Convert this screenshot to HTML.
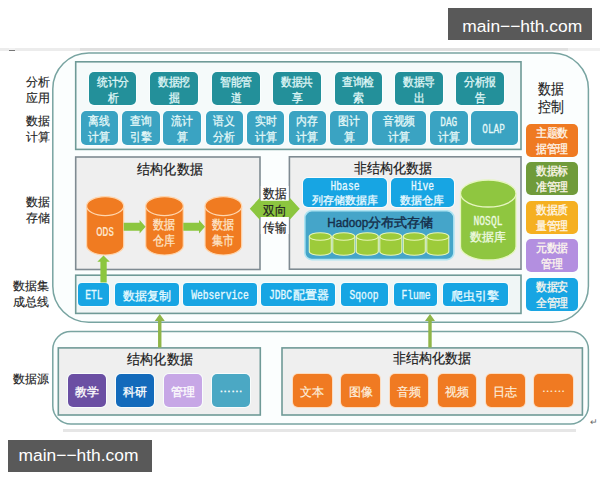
<!DOCTYPE html><html><head><meta charset="utf-8"><style>
html,body{margin:0;padding:0;background:#fff;width:600px;height:480px;overflow:hidden;position:relative}
</style></head><body><div style="position:absolute;left:0px;top:48px;width:80.00px;height:2.50px;background:#ececec;border-radius:0px;"></div><div style="position:absolute;left:80px;top:48px;width:488.00px;height:2.50px;background:#e0e0e0;border-radius:0px;"></div><div style="position:absolute;left:568px;top:48px;width:32.00px;height:2.50px;background:#f0f0f0;border-radius:0px;"></div><div style="position:absolute;left:9px;top:48px;width:6.00px;height:2.00px;background:#f2f2f2;border-radius:0px;"></div><div style="position:absolute;left:9px;top:50px;width:6.00px;height:1.00px;background:#777;border-radius:0px;"></div><div style="position:absolute;left:448px;top:8px;width:144.00px;height:32.00px;background:#595959;border-radius:0px;"></div><div style="position:absolute;left:462.3px;top:10px;width:120px;height:32px;line-height:32px;text-align:center;font-family:'Liberation Sans',sans-serif;font-size:17.4px;color:#fff;white-space:nowrap">main−−hth.com</div><div style="position:absolute;left:8px;top:440px;width:144.00px;height:32.00px;background:#595959;border-radius:0px;"></div><div style="position:absolute;left:18.5px;top:439px;width:120px;height:32px;line-height:32px;text-align:center;font-family:'Liberation Sans',sans-serif;font-size:17.4px;color:#fff;white-space:nowrap">main−−hth.com</div><svg width="600" height="480" style="position:absolute;left:0;top:0"><rect x="52.8" y="52.9" width="535.60" height="269.40" rx="36" ry="36" fill="#fbfefe" stroke="#78a4a1" stroke-width="1.5"/></svg><div style="position:absolute;left:20px;top:72px;width:35.00px;height:36.00px;display:flex;align-items:center;justify-content:center;text-align:center;font-family:'Liberation Sans',sans-serif;font-size:12.2px;line-height:16px;color:#222;font-weight:normal;white-space:nowrap;-webkit-text-stroke:0.15px #222;"><div>分析<br>应用</div></div><div style="position:absolute;left:20px;top:111px;width:35.00px;height:36.00px;display:flex;align-items:center;justify-content:center;text-align:center;font-family:'Liberation Sans',sans-serif;font-size:12.2px;line-height:16px;color:#222;font-weight:normal;white-space:nowrap;-webkit-text-stroke:0.15px #222;"><div>数据<br>计算</div></div><div style="position:absolute;left:20px;top:192px;width:35.00px;height:36.00px;display:flex;align-items:center;justify-content:center;text-align:center;font-family:'Liberation Sans',sans-serif;font-size:12.2px;line-height:16.2px;color:#222;font-weight:normal;white-space:nowrap;-webkit-text-stroke:0.15px #222;"><div>数据<br>存储</div></div><div style="position:absolute;left:8.5px;top:276px;width:45.50px;height:36.00px;display:flex;align-items:center;justify-content:center;text-align:center;font-family:'Liberation Sans',sans-serif;font-size:12px;line-height:16.3px;color:#222;font-weight:normal;white-space:nowrap;-webkit-text-stroke:0.15px #222;"><div>数据集<br>成总线</div></div><div style="position:absolute;left:8.5px;top:370px;width:45.50px;height:18.00px;display:flex;align-items:center;justify-content:center;text-align:center;font-family:'Liberation Sans',sans-serif;font-size:12.2px;line-height:16px;color:#222;font-weight:normal;white-space:nowrap;-webkit-text-stroke:0.15px #222;"><div>数据源</div></div><div style="position:absolute;left:530px;top:79px;width:42.00px;height:37.00px;display:flex;align-items:center;justify-content:center;text-align:center;font-family:'Liberation Sans',sans-serif;font-size:14.5px;line-height:18px;color:#222;font-weight:normal;white-space:nowrap;-webkit-text-stroke:0.15px #222;"><div><span style="display:inline-block;transform:scaleX(0.86)">数据<br>控制</span></div></div><svg width="600" height="480" style="position:absolute;left:0;top:0"><rect x="75.7" y="61.8" width="445.30" height="87.60" rx="0" ry="0" fill="#f5fafa" stroke="#6f9a97" stroke-width="1.6"/></svg><div style="position:absolute;left:88.75px;top:72px;width:47.50px;height:33.00px;background:#23909a;border-radius:5px;box-shadow:0 0 0 1px rgba(250,255,255,0.8);"></div><div style="position:absolute;left:88.75px;top:73.6px;width:47.50px;height:33.00px;display:flex;align-items:center;justify-content:center;text-align:center;font-family:'Liberation Sans',sans-serif;font-size:11.8px;line-height:16px;color:#e0f8f8;font-weight:normal;white-space:nowrap;-webkit-text-stroke:0.3px #e0f8f8;"><div><span style="display:inline-block;transform:scaleX(0.9)">统计分<br>析</span></div></div><div style="position:absolute;left:150px;top:72px;width:47.50px;height:33.00px;background:#23909a;border-radius:5px;box-shadow:0 0 0 1px rgba(250,255,255,0.8);"></div><div style="position:absolute;left:150px;top:73.6px;width:47.50px;height:33.00px;display:flex;align-items:center;justify-content:center;text-align:center;font-family:'Liberation Sans',sans-serif;font-size:11.8px;line-height:16px;color:#e0f8f8;font-weight:normal;white-space:nowrap;-webkit-text-stroke:0.3px #e0f8f8;"><div><span style="display:inline-block;transform:scaleX(0.9)">数据挖<br>掘</span></div></div><div style="position:absolute;left:212px;top:72px;width:47.50px;height:33.00px;background:#23909a;border-radius:5px;box-shadow:0 0 0 1px rgba(250,255,255,0.8);"></div><div style="position:absolute;left:212px;top:73.6px;width:47.50px;height:33.00px;display:flex;align-items:center;justify-content:center;text-align:center;font-family:'Liberation Sans',sans-serif;font-size:11.8px;line-height:16px;color:#e0f8f8;font-weight:normal;white-space:nowrap;-webkit-text-stroke:0.3px #e0f8f8;"><div><span style="display:inline-block;transform:scaleX(0.9)">智能管<br>道</span></div></div><div style="position:absolute;left:273px;top:72px;width:47.50px;height:33.00px;background:#23909a;border-radius:5px;box-shadow:0 0 0 1px rgba(250,255,255,0.8);"></div><div style="position:absolute;left:273px;top:73.6px;width:47.50px;height:33.00px;display:flex;align-items:center;justify-content:center;text-align:center;font-family:'Liberation Sans',sans-serif;font-size:11.8px;line-height:16px;color:#e0f8f8;font-weight:normal;white-space:nowrap;-webkit-text-stroke:0.3px #e0f8f8;"><div><span style="display:inline-block;transform:scaleX(0.9)">数据共<br>享</span></div></div><div style="position:absolute;left:334.5px;top:72px;width:47.50px;height:33.00px;background:#23909a;border-radius:5px;box-shadow:0 0 0 1px rgba(250,255,255,0.8);"></div><div style="position:absolute;left:334.5px;top:73.6px;width:47.50px;height:33.00px;display:flex;align-items:center;justify-content:center;text-align:center;font-family:'Liberation Sans',sans-serif;font-size:11.8px;line-height:16px;color:#e0f8f8;font-weight:normal;white-space:nowrap;-webkit-text-stroke:0.3px #e0f8f8;"><div><span style="display:inline-block;transform:scaleX(0.9)">查询检<br>索</span></div></div><div style="position:absolute;left:395px;top:72px;width:47.50px;height:33.00px;background:#23909a;border-radius:5px;box-shadow:0 0 0 1px rgba(250,255,255,0.8);"></div><div style="position:absolute;left:395px;top:73.6px;width:47.50px;height:33.00px;display:flex;align-items:center;justify-content:center;text-align:center;font-family:'Liberation Sans',sans-serif;font-size:11.8px;line-height:16px;color:#e0f8f8;font-weight:normal;white-space:nowrap;-webkit-text-stroke:0.3px #e0f8f8;"><div><span style="display:inline-block;transform:scaleX(0.9)">数据导<br>出</span></div></div><div style="position:absolute;left:456px;top:72px;width:47.50px;height:33.00px;background:#23909a;border-radius:5px;box-shadow:0 0 0 1px rgba(250,255,255,0.8);"></div><div style="position:absolute;left:456px;top:73.6px;width:47.50px;height:33.00px;display:flex;align-items:center;justify-content:center;text-align:center;font-family:'Liberation Sans',sans-serif;font-size:11.8px;line-height:16px;color:#e0f8f8;font-weight:normal;white-space:nowrap;-webkit-text-stroke:0.3px #e0f8f8;"><div><span style="display:inline-block;transform:scaleX(0.9)">分析报<br>告</span></div></div><div style="position:absolute;left:80.5px;top:111px;width:37.50px;height:33.50px;background:#3aa3c2;border-radius:5px;box-shadow:0 0 0 1px rgba(250,255,255,0.8);"></div><div style="position:absolute;left:80.5px;top:112px;width:37.50px;height:33.50px;display:flex;align-items:center;justify-content:center;text-align:center;font-family:'Liberation Sans',sans-serif;font-size:11.6px;line-height:16px;color:#e4f8f8;font-weight:normal;white-space:nowrap;-webkit-text-stroke:0.3px #e4f8f8;"><div><span style="display:inline-block;transform:scaleX(0.9)">离线<br>计算</span></div></div><div style="position:absolute;left:122px;top:111px;width:37.50px;height:33.50px;background:#3aa3c2;border-radius:5px;box-shadow:0 0 0 1px rgba(250,255,255,0.8);"></div><div style="position:absolute;left:122px;top:112px;width:37.50px;height:33.50px;display:flex;align-items:center;justify-content:center;text-align:center;font-family:'Liberation Sans',sans-serif;font-size:11.6px;line-height:16px;color:#e4f8f8;font-weight:normal;white-space:nowrap;-webkit-text-stroke:0.3px #e4f8f8;"><div><span style="display:inline-block;transform:scaleX(0.9)">查询<br>引擎</span></div></div><div style="position:absolute;left:163px;top:111px;width:38.00px;height:33.50px;background:#3aa3c2;border-radius:5px;box-shadow:0 0 0 1px rgba(250,255,255,0.8);"></div><div style="position:absolute;left:163px;top:112px;width:38.00px;height:33.50px;display:flex;align-items:center;justify-content:center;text-align:center;font-family:'Liberation Sans',sans-serif;font-size:11.6px;line-height:16px;color:#e4f8f8;font-weight:normal;white-space:nowrap;-webkit-text-stroke:0.3px #e4f8f8;"><div><span style="display:inline-block;transform:scaleX(0.9)">流计<br>算</span></div></div><div style="position:absolute;left:205.5px;top:111px;width:37.00px;height:33.50px;background:#3aa3c2;border-radius:5px;box-shadow:0 0 0 1px rgba(250,255,255,0.8);"></div><div style="position:absolute;left:205.5px;top:112px;width:37.00px;height:33.50px;display:flex;align-items:center;justify-content:center;text-align:center;font-family:'Liberation Sans',sans-serif;font-size:11.6px;line-height:16px;color:#e4f8f8;font-weight:normal;white-space:nowrap;-webkit-text-stroke:0.3px #e4f8f8;"><div><span style="display:inline-block;transform:scaleX(0.9)">语义<br>分析</span></div></div><div style="position:absolute;left:247px;top:111px;width:37.00px;height:33.50px;background:#3aa3c2;border-radius:5px;box-shadow:0 0 0 1px rgba(250,255,255,0.8);"></div><div style="position:absolute;left:247px;top:112px;width:37.00px;height:33.50px;display:flex;align-items:center;justify-content:center;text-align:center;font-family:'Liberation Sans',sans-serif;font-size:11.6px;line-height:16px;color:#e4f8f8;font-weight:normal;white-space:nowrap;-webkit-text-stroke:0.3px #e4f8f8;"><div><span style="display:inline-block;transform:scaleX(0.9)">实时<br>计算</span></div></div><div style="position:absolute;left:289px;top:111px;width:36.50px;height:33.50px;background:#3aa3c2;border-radius:5px;box-shadow:0 0 0 1px rgba(250,255,255,0.8);"></div><div style="position:absolute;left:289px;top:112px;width:36.50px;height:33.50px;display:flex;align-items:center;justify-content:center;text-align:center;font-family:'Liberation Sans',sans-serif;font-size:11.6px;line-height:16px;color:#e4f8f8;font-weight:normal;white-space:nowrap;-webkit-text-stroke:0.3px #e4f8f8;"><div><span style="display:inline-block;transform:scaleX(0.9)">内存<br>计算</span></div></div><div style="position:absolute;left:330px;top:111px;width:37.50px;height:33.50px;background:#3aa3c2;border-radius:5px;box-shadow:0 0 0 1px rgba(250,255,255,0.8);"></div><div style="position:absolute;left:330px;top:112px;width:37.50px;height:33.50px;display:flex;align-items:center;justify-content:center;text-align:center;font-family:'Liberation Sans',sans-serif;font-size:11.6px;line-height:16px;color:#e4f8f8;font-weight:normal;white-space:nowrap;-webkit-text-stroke:0.3px #e4f8f8;"><div><span style="display:inline-block;transform:scaleX(0.9)">图计<br>算</span></div></div><div style="position:absolute;left:372px;top:111px;width:54.00px;height:33.50px;background:#3aa3c2;border-radius:5px;box-shadow:0 0 0 1px rgba(250,255,255,0.8);"></div><div style="position:absolute;left:372px;top:112px;width:54.00px;height:33.50px;display:flex;align-items:center;justify-content:center;text-align:center;font-family:'Liberation Sans',sans-serif;font-size:11.6px;line-height:16px;color:#e4f8f8;font-weight:normal;white-space:nowrap;-webkit-text-stroke:0.3px #e4f8f8;"><div><span style="display:inline-block;transform:scaleX(0.9)">音视频<br>计算</span></div></div><div style="position:absolute;left:430px;top:111px;width:37.50px;height:33.50px;background:#3aa3c2;border-radius:5px;box-shadow:0 0 0 1px rgba(250,255,255,0.8);"></div><div style="position:absolute;left:430px;top:112px;width:37.50px;height:33.50px;display:flex;align-items:center;justify-content:center;text-align:center;font-family:'Liberation Sans',sans-serif;font-size:11.6px;line-height:16px;color:#e4f8f8;font-weight:normal;white-space:nowrap;-webkit-text-stroke:0.3px #e4f8f8;"><div><span style="display:inline-block;transform:scaleX(0.9)"><span style="font-family:'Liberation Mono',monospace;display:inline-block;transform:scaleX(0.8);font-size:13px;line-height:15px;position:relative;top:1px">DAG</span><br>计算</span></div></div><div style="position:absolute;left:470.5px;top:111px;width:47.00px;height:33.50px;background:#3aa3c2;border-radius:5px;box-shadow:0 0 0 1px rgba(250,255,255,0.8);"></div><div style="position:absolute;left:470.5px;top:112px;width:47.00px;height:33.50px;display:flex;align-items:center;justify-content:center;text-align:center;font-family:'Liberation Sans',sans-serif;font-size:11.6px;line-height:16px;color:#e4f8f8;font-weight:normal;white-space:nowrap;-webkit-text-stroke:0.3px #e4f8f8;"><div><span style="display:inline-block;transform:scaleX(0.9)"><span style="font-family:'Liberation Mono',monospace;display:inline-block;transform:scaleX(0.8);font-size:13px;position:relative;top:1px">OLAP</span></span></div></div><div style="position:absolute;left:526.3px;top:124px;width:51.40px;height:33.00px;background:#ef7a22;border-radius:5px;box-shadow:0 0 0 1px rgba(250,255,255,0.8);"></div><div style="position:absolute;left:526.3px;top:124.8px;width:51.40px;height:33.00px;display:flex;align-items:center;justify-content:center;text-align:center;font-family:'Liberation Sans',sans-serif;font-size:12px;line-height:16px;color:#fff8ee;font-weight:normal;white-space:nowrap;-webkit-text-stroke:0.3px #fff8ee;"><div><span style="display:inline-block;transform:scaleX(0.91)">主题数<br>据管理</span></div></div><div style="position:absolute;left:526.3px;top:162px;width:51.40px;height:33.40px;background:#6f9b3a;border-radius:5px;box-shadow:0 0 0 1px rgba(250,255,255,0.8);"></div><div style="position:absolute;left:526.3px;top:162.8px;width:51.40px;height:33.40px;display:flex;align-items:center;justify-content:center;text-align:center;font-family:'Liberation Sans',sans-serif;font-size:12px;line-height:16px;color:#fff8ee;font-weight:normal;white-space:nowrap;-webkit-text-stroke:0.3px #fff8ee;"><div><span style="display:inline-block;transform:scaleX(0.91)">数据标<br>准管理</span></div></div><div style="position:absolute;left:526.3px;top:200.5px;width:51.40px;height:33.50px;background:#f5b021;border-radius:5px;box-shadow:0 0 0 1px rgba(250,255,255,0.8);"></div><div style="position:absolute;left:526.3px;top:201.3px;width:51.40px;height:33.50px;display:flex;align-items:center;justify-content:center;text-align:center;font-family:'Liberation Sans',sans-serif;font-size:12px;line-height:16px;color:#fff8ee;font-weight:normal;white-space:nowrap;-webkit-text-stroke:0.3px #fff8ee;"><div><span style="display:inline-block;transform:scaleX(0.91)">数据质<br>量管理</span></div></div><div style="position:absolute;left:526.3px;top:239px;width:51.40px;height:33.30px;background:#b38fe0;border-radius:5px;box-shadow:0 0 0 1px rgba(250,255,255,0.8);"></div><div style="position:absolute;left:526.3px;top:239.8px;width:51.40px;height:33.30px;display:flex;align-items:center;justify-content:center;text-align:center;font-family:'Liberation Sans',sans-serif;font-size:12px;line-height:16px;color:#fff8ee;font-weight:normal;white-space:nowrap;-webkit-text-stroke:0.3px #fff8ee;"><div><span style="display:inline-block;transform:scaleX(0.91)">元数据<br>管理</span></div></div><div style="position:absolute;left:526.3px;top:278px;width:51.40px;height:33.00px;background:#17a5e3;border-radius:5px;box-shadow:0 0 0 1px rgba(250,255,255,0.8);"></div><div style="position:absolute;left:526.3px;top:278.8px;width:51.40px;height:33.00px;display:flex;align-items:center;justify-content:center;text-align:center;font-family:'Liberation Sans',sans-serif;font-size:12px;line-height:16px;color:#fff8ee;font-weight:normal;white-space:nowrap;-webkit-text-stroke:0.3px #fff8ee;"><div><span style="display:inline-block;transform:scaleX(0.91)">数据安<br>全管理</span></div></div><svg width="600" height="480" style="position:absolute;left:0;top:0"><rect x="75.7" y="157" width="184.30" height="112.50" rx="0" ry="0" fill="#efefef" stroke="#7f8b92" stroke-width="1.6"/></svg><svg width="600" height="480" style="position:absolute;left:0;top:0"><rect x="289.4" y="156.8" width="231.60" height="112.40" rx="0" ry="0" fill="#efefef" stroke="#7f8b92" stroke-width="1.6"/></svg><div style="position:absolute;left:120px;top:160px;width:100.00px;height:20.00px;display:flex;align-items:center;justify-content:center;text-align:center;font-family:'Liberation Sans',sans-serif;font-size:13.5px;line-height:18px;color:#1a1a1a;font-weight:normal;white-space:nowrap;-webkit-text-stroke:0.2px #1a1a1a;"><div><span style="display:inline-block;transform:scaleX(0.93)">结构化数据</span></div></div><div style="position:absolute;left:340.5px;top:159px;width:105.00px;height:20.00px;display:flex;align-items:center;justify-content:center;text-align:center;font-family:'Liberation Sans',sans-serif;font-size:13.5px;line-height:18px;color:#1a1a1a;font-weight:normal;white-space:nowrap;-webkit-text-stroke:0.2px #1a1a1a;"><div><span style="display:inline-block;transform:scaleX(0.93)">非结构化数据</span></div></div><svg width="600" height="480" style="position:absolute;left:0;top:0"><rect x="75.7" y="275.2" width="445.30" height="38.20" rx="0" ry="0" fill="#f0f6f6" stroke="#6f9a97" stroke-width="1.6"/></svg><div style="position:absolute;left:78px;top:283px;width:31.30px;height:22.50px;background:#17a5e3;border-radius:4px;box-shadow:0 0 0 1px rgba(250,255,255,0.8);"></div><div style="position:absolute;left:78px;top:284.5px;width:31.30px;height:22.50px;display:flex;align-items:center;justify-content:center;text-align:center;font-family:'Liberation Sans',sans-serif;font-size:11.5px;line-height:16px;color:#e6faff;font-weight:normal;white-space:nowrap;-webkit-text-stroke:0.3px #e6faff;"><div><span style="font-family:'Liberation Mono',monospace;display:inline-block;transform:scaleX(0.8);font-size:12px">ETL</span></div></div><div style="position:absolute;left:115px;top:283px;width:63.50px;height:22.50px;background:#17a5e3;border-radius:4px;box-shadow:0 0 0 1px rgba(250,255,255,0.8);"></div><div style="position:absolute;left:115px;top:284.5px;width:63.50px;height:22.50px;display:flex;align-items:center;justify-content:center;text-align:center;font-family:'Liberation Sans',sans-serif;font-size:11.5px;line-height:16px;color:#e6faff;font-weight:normal;white-space:nowrap;-webkit-text-stroke:0.3px #e6faff;"><div>数据复制</div></div><div style="position:absolute;left:183.3px;top:283px;width:73.40px;height:22.50px;background:#17a5e3;border-radius:4px;box-shadow:0 0 0 1px rgba(250,255,255,0.8);"></div><div style="position:absolute;left:183.3px;top:284.5px;width:73.40px;height:22.50px;display:flex;align-items:center;justify-content:center;text-align:center;font-family:'Liberation Sans',sans-serif;font-size:11.5px;line-height:16px;color:#e6faff;font-weight:normal;white-space:nowrap;-webkit-text-stroke:0.3px #e6faff;"><div><span style="font-family:'Liberation Mono',monospace;display:inline-block;transform:scaleX(0.8);font-size:12px">Webservice</span></div></div><div style="position:absolute;left:261.2px;top:283px;width:74.00px;height:22.50px;background:#17a5e3;border-radius:4px;box-shadow:0 0 0 1px rgba(250,255,255,0.8);"></div><div style="position:absolute;left:261.2px;top:284.5px;width:74.00px;height:22.50px;display:flex;align-items:center;justify-content:center;text-align:center;font-family:'Liberation Sans',sans-serif;font-size:11.5px;line-height:16px;color:#e6faff;font-weight:normal;white-space:nowrap;-webkit-text-stroke:0.3px #e6faff;"><div><span style="font-family:'Liberation Mono',monospace;display:inline-block;transform:scaleX(0.8);margin:0 -2px;font-size:12px">JDBC</span>配置器</div></div><div style="position:absolute;left:340.5px;top:283px;width:47.00px;height:22.50px;background:#17a5e3;border-radius:4px;box-shadow:0 0 0 1px rgba(250,255,255,0.8);"></div><div style="position:absolute;left:340.5px;top:284.5px;width:47.00px;height:22.50px;display:flex;align-items:center;justify-content:center;text-align:center;font-family:'Liberation Sans',sans-serif;font-size:11.5px;line-height:16px;color:#e6faff;font-weight:normal;white-space:nowrap;-webkit-text-stroke:0.3px #e6faff;"><div><span style="font-family:'Liberation Mono',monospace;display:inline-block;transform:scaleX(0.8);font-size:12px">Sqoop</span></div></div><div style="position:absolute;left:394px;top:283px;width:43.20px;height:22.50px;background:#17a5e3;border-radius:4px;box-shadow:0 0 0 1px rgba(250,255,255,0.8);"></div><div style="position:absolute;left:394px;top:284.5px;width:43.20px;height:22.50px;display:flex;align-items:center;justify-content:center;text-align:center;font-family:'Liberation Sans',sans-serif;font-size:11.5px;line-height:16px;color:#e6faff;font-weight:normal;white-space:nowrap;-webkit-text-stroke:0.3px #e6faff;"><div><span style="font-family:'Liberation Mono',monospace;display:inline-block;transform:scaleX(0.8);font-size:12px">Flume</span></div></div><div style="position:absolute;left:442.5px;top:283px;width:65.40px;height:22.50px;background:#17a5e3;border-radius:4px;box-shadow:0 0 0 1px rgba(250,255,255,0.8);"></div><div style="position:absolute;left:442.5px;top:284.5px;width:65.40px;height:22.50px;display:flex;align-items:center;justify-content:center;text-align:center;font-family:'Liberation Sans',sans-serif;font-size:11.5px;line-height:16px;color:#e6faff;font-weight:normal;white-space:nowrap;-webkit-text-stroke:0.3px #e6faff;"><div>爬虫引擎</div></div><svg width="600" height="480" style="position:absolute;left:0;top:0"><rect x="52.8" y="331.4" width="535.60" height="92.60" rx="18" ry="18" fill="#fbfefe" stroke="#78a4a1" stroke-width="1.5"/></svg><svg width="600" height="480" style="position:absolute;left:0;top:0"><rect x="58.3" y="347.9" width="202.00" height="67.10" rx="0" ry="0" fill="#efefef" stroke="#6f9a97" stroke-width="1.6"/></svg><svg width="600" height="480" style="position:absolute;left:0;top:0"><rect x="282" y="347.9" width="300.40" height="67.10" rx="0" ry="0" fill="#efefef" stroke="#6f9a97" stroke-width="1.6"/></svg><div style="position:absolute;left:99.5px;top:351px;width:120.00px;height:18.00px;display:flex;align-items:center;justify-content:center;text-align:center;font-family:'Liberation Sans',sans-serif;font-size:13.5px;line-height:18px;color:#1a1a1a;font-weight:normal;white-space:nowrap;-webkit-text-stroke:0.2px #1a1a1a;"><div><span style="display:inline-block;transform:scaleX(0.93)">结构化数据</span></div></div><div style="position:absolute;left:362px;top:350px;width:140.00px;height:18.00px;display:flex;align-items:center;justify-content:center;text-align:center;font-family:'Liberation Sans',sans-serif;font-size:13.5px;line-height:18px;color:#1a1a1a;font-weight:normal;white-space:nowrap;-webkit-text-stroke:0.2px #1a1a1a;"><div><span style="display:inline-block;transform:scaleX(0.93)">非结构化数据</span></div></div><div style="position:absolute;left:68px;top:374px;width:38.00px;height:33.00px;background:#6b4fa3;border-radius:5px;box-shadow:0 0 0 1px rgba(250,255,255,0.8);"></div><div style="position:absolute;left:68px;top:375px;width:38.00px;height:33.00px;display:flex;align-items:center;justify-content:center;text-align:center;font-family:'Liberation Sans',sans-serif;font-size:11.8px;line-height:16px;color:#fff;font-weight:normal;white-space:nowrap;-webkit-text-stroke:0.3px #fff;"><div>教学</div></div><div style="position:absolute;left:116px;top:374px;width:38.00px;height:33.00px;background:#136abb;border-radius:5px;box-shadow:0 0 0 1px rgba(250,255,255,0.8);"></div><div style="position:absolute;left:116px;top:375px;width:38.00px;height:33.00px;display:flex;align-items:center;justify-content:center;text-align:center;font-family:'Liberation Sans',sans-serif;font-size:11.8px;line-height:16px;color:#fff;font-weight:normal;white-space:nowrap;-webkit-text-stroke:0.3px #fff;"><div>科研</div></div><div style="position:absolute;left:164px;top:374px;width:38.00px;height:33.00px;background:#c7a7e6;border-radius:5px;box-shadow:0 0 0 1px rgba(250,255,255,0.8);"></div><div style="position:absolute;left:164px;top:375px;width:38.00px;height:33.00px;display:flex;align-items:center;justify-content:center;text-align:center;font-family:'Liberation Sans',sans-serif;font-size:11.8px;line-height:16px;color:#fff;font-weight:normal;white-space:nowrap;-webkit-text-stroke:0.3px #fff;"><div>管理</div></div><div style="position:absolute;left:212px;top:374px;width:38.00px;height:33.00px;background:#4ba8c4;border-radius:5px;box-shadow:0 0 0 1px rgba(250,255,255,0.8);"></div><div style="position:absolute;left:212px;top:371.5px;width:38.00px;height:33.00px;display:flex;align-items:center;justify-content:center;text-align:center;font-family:'Liberation Sans',sans-serif;font-size:11.8px;line-height:16px;color:#fff;font-weight:normal;white-space:nowrap;-webkit-text-stroke:0.3px #fff;"><div>……</div></div><div style="position:absolute;left:293.2px;top:374px;width:38.50px;height:33.00px;background:#f07a22;border-radius:5px;box-shadow:0 0 0 1px rgba(255,215,180,0.8);"></div><div style="position:absolute;left:293.2px;top:375px;width:38.50px;height:33.00px;display:flex;align-items:center;justify-content:center;text-align:center;font-family:'Liberation Sans',sans-serif;font-size:11.8px;line-height:16px;color:#fdeedd;font-weight:normal;white-space:nowrap;-webkit-text-stroke:0.2px #fdeedd;"><div>文本</div></div><div style="position:absolute;left:341.4px;top:374px;width:38.50px;height:33.00px;background:#f07a22;border-radius:5px;box-shadow:0 0 0 1px rgba(255,215,180,0.8);"></div><div style="position:absolute;left:341.4px;top:375px;width:38.50px;height:33.00px;display:flex;align-items:center;justify-content:center;text-align:center;font-family:'Liberation Sans',sans-serif;font-size:11.8px;line-height:16px;color:#fdeedd;font-weight:normal;white-space:nowrap;-webkit-text-stroke:0.2px #fdeedd;"><div>图像</div></div><div style="position:absolute;left:389.6px;top:374px;width:38.50px;height:33.00px;background:#f07a22;border-radius:5px;box-shadow:0 0 0 1px rgba(255,215,180,0.8);"></div><div style="position:absolute;left:389.6px;top:375px;width:38.50px;height:33.00px;display:flex;align-items:center;justify-content:center;text-align:center;font-family:'Liberation Sans',sans-serif;font-size:11.8px;line-height:16px;color:#fdeedd;font-weight:normal;white-space:nowrap;-webkit-text-stroke:0.2px #fdeedd;"><div>音频</div></div><div style="position:absolute;left:437.8px;top:374px;width:38.50px;height:33.00px;background:#f07a22;border-radius:5px;box-shadow:0 0 0 1px rgba(255,215,180,0.8);"></div><div style="position:absolute;left:437.8px;top:375px;width:38.50px;height:33.00px;display:flex;align-items:center;justify-content:center;text-align:center;font-family:'Liberation Sans',sans-serif;font-size:11.8px;line-height:16px;color:#fdeedd;font-weight:normal;white-space:nowrap;-webkit-text-stroke:0.2px #fdeedd;"><div>视频</div></div><div style="position:absolute;left:486.0px;top:374px;width:38.50px;height:33.00px;background:#f07a22;border-radius:5px;box-shadow:0 0 0 1px rgba(255,215,180,0.8);"></div><div style="position:absolute;left:486.0px;top:375px;width:38.50px;height:33.00px;display:flex;align-items:center;justify-content:center;text-align:center;font-family:'Liberation Sans',sans-serif;font-size:11.8px;line-height:16px;color:#fdeedd;font-weight:normal;white-space:nowrap;-webkit-text-stroke:0.2px #fdeedd;"><div>日志</div></div><div style="position:absolute;left:534.2px;top:374px;width:38.50px;height:33.00px;background:#f07a22;border-radius:5px;box-shadow:0 0 0 1px rgba(255,215,180,0.8);"></div><div style="position:absolute;left:534.2px;top:371.5px;width:38.50px;height:33.00px;display:flex;align-items:center;justify-content:center;text-align:center;font-family:'Liberation Sans',sans-serif;font-size:11.8px;line-height:16px;color:#fdeedd;font-weight:normal;white-space:nowrap;-webkit-text-stroke:0.2px #fdeedd;"><div>……</div></div><div style="position:absolute;left:63px;top:428.5px;width:513.00px;height:3.00px;background:#e6e6e6;border-radius:0px;"></div><div style="position:absolute;left:590px;top:417px;font-family:'Liberation Sans',sans-serif;font-size:9px;color:#666">↵</div><div style="position:absolute;left:302.7px;top:177.5px;width:84.80px;height:29.80px;background:#17a5e3;border-radius:5px;box-shadow:0 0 0 1px rgba(250,255,255,0.8);"></div><div style="position:absolute;left:302.7px;top:179.0px;width:84.80px;height:29.80px;display:flex;align-items:center;justify-content:center;text-align:center;font-family:'Liberation Sans',sans-serif;font-size:11.2px;line-height:13.5px;color:#e8f9ff;font-weight:normal;white-space:nowrap;-webkit-text-stroke:0.3px #e8f9ff;"><div><span style="font-family:'Liberation Mono',monospace;display:inline-block;transform:scaleX(0.8);font-size:12px">Hbase</span><br>列存储数据库</div></div><div style="position:absolute;left:390.7px;top:177.5px;width:63.30px;height:29.80px;background:#17a5e3;border-radius:5px;box-shadow:0 0 0 1px rgba(250,255,255,0.8);"></div><div style="position:absolute;left:390.7px;top:179.0px;width:63.30px;height:29.80px;display:flex;align-items:center;justify-content:center;text-align:center;font-family:'Liberation Sans',sans-serif;font-size:11.2px;line-height:13.5px;color:#e8f9ff;font-weight:normal;white-space:nowrap;-webkit-text-stroke:0.3px #e8f9ff;"><div><span style="font-family:'Liberation Mono',monospace;display:inline-block;transform:scaleX(0.8);font-size:12px">Hive</span><br>数据仓库</div></div><svg width="600" height="480" style="position:absolute;left:0;top:0"><rect x="304.8" y="210.8" width="149.10" height="48.80" rx="7" ry="7" fill="#45a5c9" stroke="#b0e4f2" stroke-width="1.6"/></svg><svg width="600" height="480" style="position:absolute;left:0;top:0"><path d="M86.6,206.1 L86.6,245.5 A18.550000000000004,9.5 0 0 0 123.7,245.5 L123.7,206.1" fill="#f07b21" stroke="#ffd6ae" stroke-width="1.2"/><ellipse cx="105.15" cy="206.1" rx="18.550000000000004" ry="9.5" fill="#f07b21" stroke="#ffd6ae" stroke-width="1.2"/><path d="M145.7,206.1 L145.7,245.5 A18.80000000000001,9.5 0 0 0 183.3,245.5 L183.3,206.1" fill="#f07b21" stroke="#ffd6ae" stroke-width="1.2"/><ellipse cx="164.5" cy="206.1" rx="18.80000000000001" ry="9.5" fill="#f07b21" stroke="#ffd6ae" stroke-width="1.2"/><path d="M205,206.1 L205,245.5 A18.349999999999994,9.5 0 0 0 241.7,245.5 L241.7,206.1" fill="#f07b21" stroke="#ffd6ae" stroke-width="1.2"/><ellipse cx="223.35" cy="206.1" rx="18.349999999999994" ry="9.5" fill="#f07b21" stroke="#ffd6ae" stroke-width="1.2"/><path d="M123.7,222.8 L139.6,222.8 L139.6,220.05 L145.6,226.8 L139.6,233.55 L139.6,230.8 L123.7,230.8Z" fill="#8cc63f"/><path d="M183.3,222.8 L199,222.8 L199,220.05 L205,226.8 L199,233.55 L199,230.8 L183.3,230.8Z" fill="#8cc63f"/><path d="M100.4,282.5 L100.4,261.7 L97.3,261.7 L103.5,255.4 L109.8,261.7 L106.7,261.7 L106.7,282.5Z" fill="#8cc63f"/><path d="M158.05,347.6 L158.05,321 L154.75,321 L159.75,314 L164.75,321 L161.45,321 L161.45,347.6Z" fill="#8fb548"/><path d="M428.3,347.6 L428.3,321 L425,321 L430,314 L435,321 L431.7,321 L431.7,347.6Z" fill="#8fb548"/><path d="M249.75,208.75 L260,197.5 L260,200.5 L289.5,200.5 L289.5,197.5 L299.75,208.75 L289.5,220 L289.5,217 L260,217 L260,220Z" fill="#8cc63f"/><rect x="260.8" y="186" width="27.8" height="14.5" fill="#fff"/><rect x="260.8" y="217" width="27.8" height="17" fill="#fff"/><path d="M460.5,193.5 L460.5,246.5 A27.75,13.5 0 0 0 516,246.5 L516,193.5" fill="#8fc640" stroke="#e6f5c0" stroke-width="1.3"/><ellipse cx="488.25" cy="193.5" rx="27.75" ry="13.5" fill="#8fc640" stroke="#e6f5c0" stroke-width="1.3"/><path d="M309.3,236.5 L309.3,251.5 A11.0,3.8 0 0 0 331.3,251.5 L331.3,236.5" fill="#9dcb3a" stroke="#e8f5b8" stroke-width="1.1"/><ellipse cx="320.3" cy="236.5" rx="11.0" ry="3.8" fill="#9dcb3a" stroke="#e8f5b8" stroke-width="1.1"/><path d="M332.8,236.5 L332.8,251.5 A11.0,3.8 0 0 0 354.8,251.5 L354.8,236.5" fill="#9dcb3a" stroke="#e8f5b8" stroke-width="1.1"/><ellipse cx="343.8" cy="236.5" rx="11.0" ry="3.8" fill="#9dcb3a" stroke="#e8f5b8" stroke-width="1.1"/><path d="M356.3,236.5 L356.3,251.5 A11.0,3.8 0 0 0 378.3,251.5 L378.3,236.5" fill="#9dcb3a" stroke="#e8f5b8" stroke-width="1.1"/><ellipse cx="367.3" cy="236.5" rx="11.0" ry="3.8" fill="#9dcb3a" stroke="#e8f5b8" stroke-width="1.1"/><path d="M379.8,236.5 L379.8,251.5 A11.0,3.8 0 0 0 401.8,251.5 L401.8,236.5" fill="#9dcb3a" stroke="#e8f5b8" stroke-width="1.1"/><ellipse cx="390.8" cy="236.5" rx="11.0" ry="3.8" fill="#9dcb3a" stroke="#e8f5b8" stroke-width="1.1"/><path d="M403.3,236.5 L403.3,251.5 A11.0,3.8 0 0 0 425.3,251.5 L425.3,236.5" fill="#9dcb3a" stroke="#e8f5b8" stroke-width="1.1"/><ellipse cx="414.3" cy="236.5" rx="11.0" ry="3.8" fill="#9dcb3a" stroke="#e8f5b8" stroke-width="1.1"/><path d="M426.8,236.5 L426.8,251.5 A11.0,3.8 0 0 0 448.8,251.5 L448.8,236.5" fill="#9dcb3a" stroke="#e8f5b8" stroke-width="1.1"/><ellipse cx="437.8" cy="236.5" rx="11.0" ry="3.8" fill="#9dcb3a" stroke="#e8f5b8" stroke-width="1.1"/></svg><div style="position:absolute;left:86.6px;top:214px;width:37.10px;height:35.00px;display:flex;align-items:center;justify-content:center;text-align:center;font-family:'Liberation Sans',sans-serif;font-size:13px;line-height:14px;color:#fde4c8;font-weight:bold;white-space:nowrap;"><div><span style="display:inline-block;transform:scaleX(0.62)">ODS</span></div></div><div style="position:absolute;left:145.7px;top:210.5px;width:37.60px;height:45.00px;display:flex;align-items:center;justify-content:center;text-align:center;font-family:'Liberation Sans',sans-serif;font-size:12.5px;line-height:16px;color:#fde4c8;font-weight:normal;white-space:nowrap;-webkit-text-stroke:0.3px #fde4c8;"><div><span style="display:inline-block;transform:scaleX(0.85)">数据<br>仓库</span></div></div><div style="position:absolute;left:205px;top:210.5px;width:36.70px;height:45.00px;display:flex;align-items:center;justify-content:center;text-align:center;font-family:'Liberation Sans',sans-serif;font-size:12.5px;line-height:16px;color:#fde4c8;font-weight:normal;white-space:nowrap;-webkit-text-stroke:0.3px #fde4c8;"><div><span style="display:inline-block;transform:scaleX(0.85)">数据<br>集市</span></div></div><div style="position:absolute;left:460.5px;top:202px;width:55.50px;height:54.00px;display:flex;align-items:center;justify-content:center;text-align:center;font-family:'Liberation Sans',sans-serif;font-size:12px;line-height:15px;color:#eefae0;font-weight:normal;white-space:nowrap;-webkit-text-stroke:0.3px #eefae0;"><div><span style="font-family:'Liberation Mono',monospace;display:inline-block;transform:scaleX(0.8);">NOSQL</span><br>数据库</div></div><div style="position:absolute;left:304px;top:213.5px;width:152.00px;height:18.00px;display:flex;align-items:center;justify-content:center;text-align:center;font-family:'Liberation Sans',sans-serif;font-size:13px;line-height:16px;color:#16304c;font-weight:normal;white-space:nowrap;-webkit-text-stroke:0.45px #16304c;"><div><span style="display:inline-block;transform:scaleX(0.9);margin:0 -2px">Hadoop</span>分布式存储</div></div><div style="position:absolute;left:258px;top:185.2px;width:34.00px;height:52.00px;display:flex;align-items:center;justify-content:center;text-align:center;font-family:'Liberation Sans',sans-serif;font-size:13px;line-height:16.8px;color:#222;font-weight:normal;white-space:nowrap;-webkit-text-stroke:0.2px #222;"><div><span style="display:inline-block;transform:scaleX(0.9)">数据<br>双向<br>传输</span></div></div></body></html>
